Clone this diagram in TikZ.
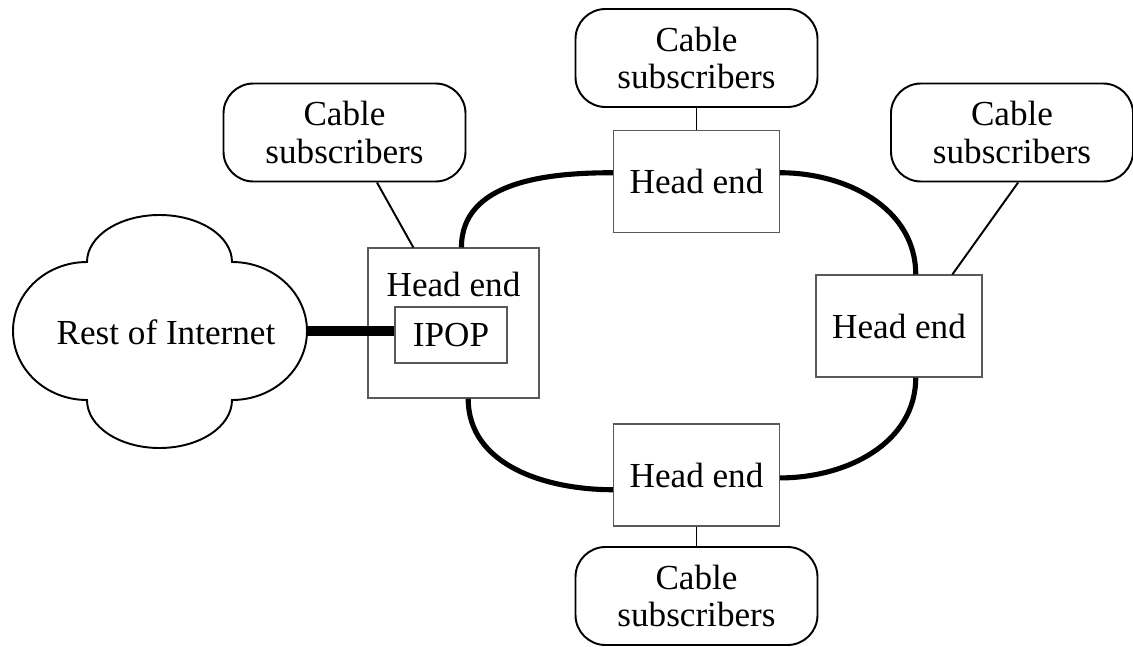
\documentclass[tikz,border=0pt]{standalone}
\usepackage{fontspec}
\setmainfont{Liberation Serif}
\usetikzlibrary{calc}

\begin{document}
\begin{tikzpicture}[
    font=\fontsize{20}{21.5}\selectfont,
    headbox/.style={draw=black!65, line width=0.6pt, minimum width=3.32cm, minimum height=2.04cm, inner sep=0pt},
    subsbox/.style={draw, line width=1.1pt, rounded corners=0.6cm, minimum width=4.84cm, minimum height=1.96cm, align=center, inner sep=0pt},
    ring/.style={line width=2.9pt},
    tap/.style={line width=1.1pt}
  ]
    \useasboundingbox (0,0) rectangle (22.66,12.92);

    % Rest of Internet
    \draw[line width=1.1pt] (1.74,7.68)
        arc[start angle=180, end angle=0, x radius=1.45cm, y radius=0.94cm]
        arc[start angle=90, end angle=-90, x radius=1.5cm, y radius=1.38cm]
        arc[start angle=0, end angle=-180, x radius=1.45cm, y radius=0.96cm]
        arc[start angle=-90, end angle=-270, x radius=1.48cm, y radius=1.38cm] -- cycle;
    \node (inet) at (3.32,6.28) {Rest of Internet};
    \coordinate (inetport) at (6.14,6.30);

    % Head ends
    \node[headbox, minimum width=3.42cm, minimum height=3.0cm] (headleft) at (9.07,6.46) {};
    \node (headleftlbl) at (9.07,7.24) {Head end};
    \node[headbox, minimum width=2.24cm, minimum height=1.12cm] (ipop) at (9.02,6.22) {IPOP};
    \node[headbox] (headtop) at (13.93,9.29) {Head end};
    \node[headbox] (headright) at (17.98,6.40) {Head end};
    \node[headbox] (headbot) at (13.93,3.42) {Head end};

    % Cable subscribers
    \node[subsbox] (cabletop) at (13.93,11.76) {Cable\\subscribers};
    \node[subsbox] (cableleft) at (6.89,10.27) {Cable\\subscribers};
    \node[subsbox] (cableright) at (20.24,10.27) {Cable\\subscribers};
    \node[subsbox] (cablebot) at (13.93,1.0) {Cable\\subscribers};

    % Ring
    \draw[ring] (headleft.84) to[out=90, in=180] (headtop.174);
    \draw[ring] (headtop.6) to[out=0, in=90] (headright.72);
    \draw[ring] (headright.-72) to[out=-90, in=0] (headbot.-2);
    \draw[ring] (headbot.190) to[out=180, in=-90] (headleft.-79);

    \draw[tap] (cabletop) -- (headtop);
    \draw[tap] (cableleft.-57) -- (headleft.118);
    \draw[tap] (cableright.-83) -- (headright.44);
    \draw[tap] (headbot) -- (cablebot);

    \draw[line width=5.7pt] (inetport) -- (inetport -| ipop.west);
\end{tikzpicture}
\end{document}
